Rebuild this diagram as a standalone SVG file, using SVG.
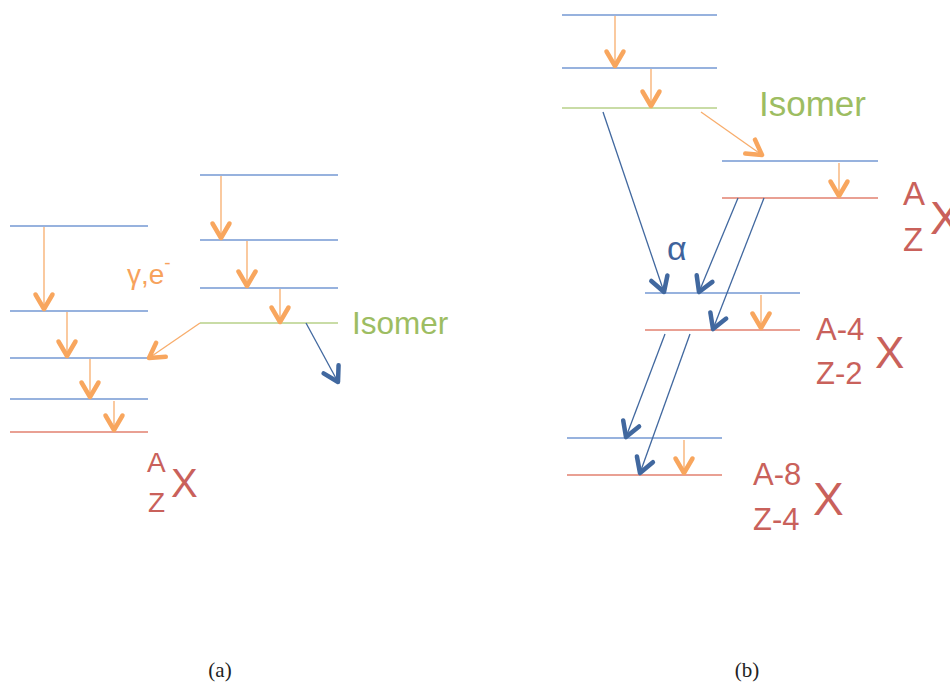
<svg xmlns="http://www.w3.org/2000/svg" width="950" height="682" viewBox="0 0 950 682">
<style>
.lvb{stroke:#7499d3;stroke-width:1.4;fill:none}
.lvr{stroke:#e2806f;stroke-width:1.4;fill:none}
.lvg{stroke:#c9dca6;stroke-width:1.8;fill:none}
.ao{stroke:#f8ad6c;stroke-width:1.3;fill:none;marker-end:url(#mo)}
.ab{stroke:#41689f;stroke-width:1.3;fill:none;marker-end:url(#mb)}
.t{font-family:"Liberation Sans","Open Sans",Arial,sans-serif}
.red{fill:#c9615b}
.grn{fill:#9dbd62}
.org{fill:#f7a25c}
.blu{fill:#3f639c}
.cap{font-family:"Liberation Serif","DejaVu Serif",serif;font-size:21px;fill:#222}
</style>
<defs>
<marker id="mo" markerUnits="userSpaceOnUse" viewBox="-20 -12 24 24" refX="0" refY="0" markerWidth="24" markerHeight="24" orient="auto">
<path d="M-14.5,-8.5 L0,0 L-14.5,8.5" fill="none" stroke="#f8a65e" stroke-width="4.5" stroke-linecap="round" stroke-linejoin="round"/>
</marker>
<marker id="mb" markerUnits="userSpaceOnUse" viewBox="-20 -12 24 24" refX="0" refY="0" markerWidth="24" markerHeight="24" orient="auto">
<path d="M-14.5,-8.5 L0,0 L-14.5,8.5" fill="none" stroke="#41689f" stroke-width="4.5" stroke-linecap="round" stroke-linejoin="round"/>
</marker>
</defs>

<!-- Panel (a) -->
<g id="a-left-l1"><line class="lvb" x1="10" y1="226" x2="148" y2="226"/></g>
<g id="a-left-l2"><line class="lvb" x1="10" y1="311" x2="148" y2="311"/></g>
<g id="a-left-l3"><line class="lvb" x1="10" y1="358" x2="148" y2="358"/></g>
<g id="a-left-l4"><line class="lvb" x1="10" y1="399" x2="148" y2="399"/></g>
<g id="a-left-l5"><line class="lvr" x1="10" y1="432" x2="148" y2="432"/></g>
<g id="a-right-l1"><line class="lvb" x1="200" y1="175" x2="338" y2="175"/></g>
<g id="a-right-l2"><line class="lvb" x1="200" y1="240" x2="338" y2="240"/></g>
<g id="a-right-l3"><line class="lvb" x1="200" y1="288" x2="338" y2="288"/></g>
<g id="a-isomer"><line class="lvg" x1="200" y1="323" x2="338" y2="323"/></g>

<g id="a-labels">
<text class="t org" x="127" y="284" font-size="28">γ,e<tspan dy="-15" font-size="19">-</tspan></text>
<text class="t grn" x="352" y="334" font-size="31.5">Isomer</text>
<text class="t red" x="147" y="472" font-size="28">A</text>
<text class="t red" x="148" y="512" font-size="28">Z</text>
<text class="t red" x="171" y="497" font-size="40">X</text>
</g>

<!-- Panel (b) -->
<g id="b-top-l1"><line class="lvb" x1="562" y1="15" x2="717" y2="15"/></g>
<g id="b-top-l2"><line class="lvb" x1="562" y1="68" x2="717" y2="68"/></g>
<g id="b-isomer"><line class="lvg" x1="562" y1="108" x2="717" y2="108"/></g>
<g id="b-AZ-l1"><line class="lvb" x1="722" y1="161" x2="878" y2="161"/></g>
<g id="b-AZ-l2"><line class="lvr" x1="722" y1="198" x2="878" y2="198"/></g>
<g id="b-A4-l1"><line class="lvb" x1="645" y1="293" x2="800" y2="293"/></g>
<g id="b-A4-l2"><line class="lvr" x1="645" y1="330" x2="800" y2="330"/></g>
<g id="b-A8-l1"><line class="lvb" x1="567" y1="438" x2="722" y2="438"/></g>
<g id="b-A8-l2"><line class="lvr" x1="567" y1="475" x2="722" y2="475"/></g>

<g id="b-labels">
<text class="t grn" x="759" y="116" font-size="35">Isomer</text>
<text class="t red" x="903" y="205" font-size="33">A</text>
<text class="t red" x="903" y="251" font-size="33">Z</text>
<text class="t red" x="930" y="234" font-size="46">X</text>
<text class="t blu" x="667" y="260" font-size="34">α</text>
<text class="t red" x="816" y="340" font-size="31">A-4</text>
<text class="t red" x="816" y="384" font-size="31">Z-2</text>
<text class="t red" x="875" y="368" font-size="44">X</text>
<text class="t red" x="753" y="485" font-size="31">A-8</text>
<text class="t red" x="753" y="530" font-size="31">Z-4</text>
<text class="t red" x="813" y="515" font-size="46">X</text>
</g>

<g id="connectors">
<!-- (a) -->
<line class="ao" x1="44" y1="227" x2="44" y2="309"/>
<line class="ao" x1="67" y1="312" x2="67" y2="356"/>
<line class="ao" x1="90" y1="359" x2="90" y2="397"/>
<line class="ao" x1="114" y1="401" x2="114" y2="430"/>
<line class="ao" x1="221" y1="176" x2="221" y2="238"/>
<line class="ao" x1="247" y1="241" x2="247" y2="286"/>
<line class="ao" x1="280" y1="289" x2="280" y2="322"/>
<line class="ao" x1="200" y1="323" x2="149" y2="358"/>
<line class="ab" x1="306" y1="323" x2="338" y2="382"/>
<!-- (b) -->
<line class="ao" x1="615" y1="16" x2="615" y2="66"/>
<line class="ao" x1="651" y1="69" x2="651" y2="106"/>
<line class="ao" x1="701" y1="112" x2="762" y2="155"/>
<line class="ao" x1="839" y1="163" x2="839" y2="196"/>
<line class="ao" x1="761" y1="295" x2="761" y2="328"/>
<line class="ao" x1="684" y1="440" x2="684" y2="473"/>
<line class="ab" x1="603" y1="112" x2="664" y2="292"/>
<line class="ab" x1="738" y1="198" x2="699" y2="292"/>
<line class="ab" x1="764" y1="198" x2="713" y2="329"/>
<line class="ab" x1="665" y1="334" x2="626" y2="437"/>
<line class="ab" x1="690" y1="334" x2="640" y2="473"/>
</g>

<g id="captions">
<text class="cap" x="220" y="677" text-anchor="middle">(a)</text>
<text class="cap" x="747" y="677" text-anchor="middle">(b)</text>
</g>
</svg>
